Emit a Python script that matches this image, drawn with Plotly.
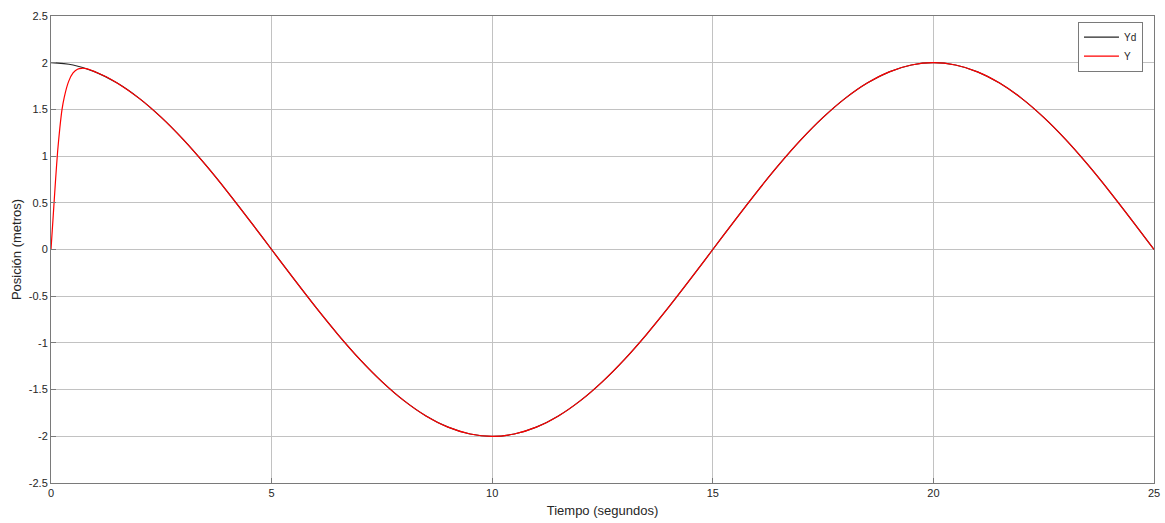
import plotly.graph_objects as go

# Reference trajectory Yd
t_yd = [0, 0.5, 1, 1.5, 2, 2.5, 3, 3.5, 4, 4.5, 5, 5.5, 6, 6.5, 7, 7.5, 8, 8.5, 9, 9.5,
        10, 10.5, 11, 11.5, 12, 12.5, 13, 13.5, 14, 14.5, 15, 15.5, 16, 16.5, 17, 17.5,
        18, 18.5, 19, 19.5, 20, 20.5, 21, 21.5, 22, 22.5, 23, 23.5, 24, 24.5, 25]
yd = [2.000, 1.975, 1.902, 1.782, 1.618, 1.414, 1.176, 0.908, 0.618, 0.313, 0.000,
      -0.313, -0.618, -0.908, -1.176, -1.414, -1.618, -1.782, -1.902, -1.975, -2.000,
      -1.975, -1.902, -1.782, -1.618, -1.414, -1.176, -0.908, -0.618, -0.313, 0.000,
      0.313, 0.618, 0.908, 1.176, 1.414, 1.618, 1.782, 1.902, 1.975, 2.000,
      1.975, 1.902, 1.782, 1.618, 1.414, 1.176, 0.908, 0.618, 0.313, 0.000]

# Output Y
t_y = [0, 0.05, 0.1, 0.15, 0.2, 0.25, 0.3, 0.4, 0.5, 0.6, 0.7, 0.8, 0.9, 1.0, 1.25,
       1.5, 2, 2.5, 3, 3.5, 4, 4.5, 5, 5.5, 6, 6.5, 7, 7.5, 8, 8.5, 9, 9.5,
       10, 10.5, 11, 11.5, 12, 12.5, 13, 13.5, 14, 14.5, 15, 15.5, 16, 16.5, 17, 17.5,
       18, 18.5, 19, 19.5, 20, 20.5, 21, 21.5, 22, 22.5, 23, 23.5, 24, 24.5, 25]
y = [0.000, 0.36, 0.72, 1.05, 1.30, 1.50, 1.63, 1.80, 1.89, 1.93, 1.940, 1.937, 1.922,
     1.902, 1.850, 1.782, 1.618, 1.414, 1.176, 0.908, 0.618, 0.313, 0.000,
     -0.313, -0.618, -0.908, -1.176, -1.414, -1.618, -1.782, -1.902, -1.975, -2.000,
     -1.975, -1.902, -1.782, -1.618, -1.414, -1.176, -0.908, -0.618, -0.313, 0.000,
     0.313, 0.618, 0.908, 1.176, 1.414, 1.618, 1.782, 1.902, 1.975, 2.000,
     1.975, 1.902, 1.782, 1.618, 1.414, 1.176, 0.908, 0.618, 0.313, 0.000]

x_ticks = [0, 5, 10, 15, 20, 25]
y_ticks = [-2.5, -2, -1.5, -1, -0.5, 0, 0.5, 1, 1.5, 2, 2.5]
y_ticktext = ["-2.5", "-2", "-1.5", "-1", "-0.5", "0", "0.5", "1", "1.5", "2", "2.5"]

fig = go.Figure()
fig.add_trace(go.Scatter(x=t_yd, y=yd, mode="lines", name="Yd",
                         line=dict(color="#262626", width=1.2, shape="spline", smoothing=1)))
fig.add_trace(go.Scatter(x=t_y, y=y, mode="lines", name="Y",
                         line=dict(color="#ff0000", width=1.2, shape="spline", smoothing=0.6)))

axis_common = dict(showgrid=True, gridcolor="#c2c2c2", gridwidth=1,
                   showline=True, linecolor="#7a7a7a", linewidth=1, mirror=True,
                   ticks="inside", ticklen=5, tickcolor="#7a7a7a",
                   zeroline=False, automargin=False,
                   tickfont=dict(size=11, color="#262626"))

fig.update_layout(
    width=1165, height=523,
    margin=dict(l=51, r=11, t=16, b=40),
    paper_bgcolor="white", plot_bgcolor="white",
    font=dict(family="Liberation Sans, Arial, sans-serif", color="#262626"),
    showlegend=True,
    legend=dict(x=0.990, y=0.988, xanchor="right", yanchor="top",
                bgcolor="white", bordercolor="#7a7a7a", borderwidth=1,
                font=dict(size=10, color="#262626"), tracegroupgap=0,
                itemwidth=35),
    xaxis=dict(range=[0, 25], tickvals=x_ticks,
               title=dict(text="Tiempo (segundos)", font=dict(size=13), standoff=7),
               **axis_common),
    yaxis=dict(range=[-2.5, 2.5], tickvals=y_ticks, ticktext=y_ticktext,
               title=dict(text="Posición (metros)", font=dict(size=13), standoff=4),
               **axis_common),
)

fig.write_html(
    "out.html",
    config={"displayModeBar": False},
    post_script="document.body.style.margin='0';document.body.style.overflow='hidden';",
)
